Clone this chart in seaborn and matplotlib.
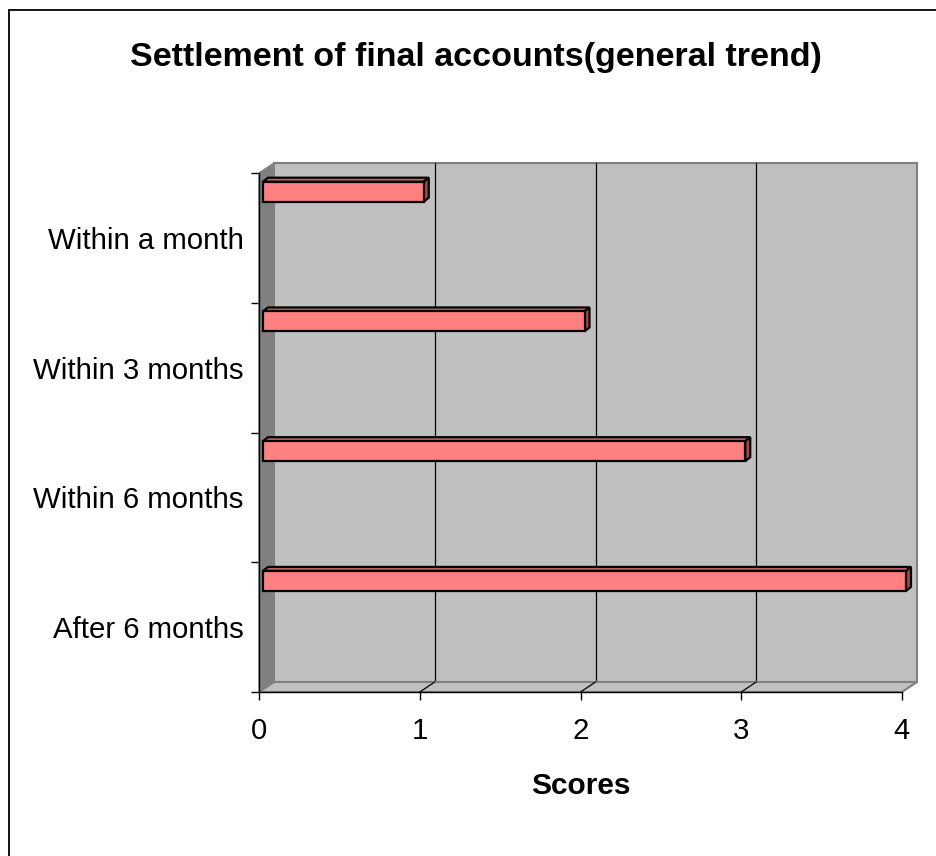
import matplotlib
matplotlib.use("Agg")
import matplotlib.pyplot as plt
import seaborn as sns
from matplotlib.patches import Polygon
from matplotlib.lines import Line2D
from matplotlib.transforms import IdentityTransform

categories = ["Within a month", "Within 3 months", "Within 6 months", "After 6 months"]
scores = [1, 2, 3, 4]
x_ticks = [0, 1, 2, 3, 4]
title = "Settlement of final accounts(general trend)"
x_label = "Scores"

W, H, DPI = 937, 856, 100
sns.set_theme(style="white")
plt.rcParams["font.family"] = ["Liberation Sans", "DejaVu Sans"]

fig = plt.figure(figsize=(W / DPI, H / DPI), dpi=DPI)
fig.patch.set_facecolor("white")

# front plane of the plot box (pixels, measured from the top-left corner)
L, R, T, B = 259, 902, 173, 692
ax = fig.add_axes([L / W, 1 - B / H, (R - L) / W, (B - T) / H])
ax.patch.set_visible(False)

DEPTH_X, DEPTH_Y = 15, 10   # depth of the 3-D box, in pixels
BAR_DX, BAR_DY = 5, 4       # depth of each bar, in pixels
BAR_SHIFT = 4               # bars sit slightly in front of the left wall
BAND_OFFSET = 0.144         # bars sit near the top of each category band

FRONT = "#FF8080"
TOP = "#C86464"
SIDE = "#A04C4C"
WALL = "#C0C0C0"
SIDE_WALL = "#808080"
EDGE = "#808080"

LABEL_SIZE = 21.2

sns.barplot(x=scores, y=categories, orient="h", color=FRONT, saturation=1,
            edgecolor="black", linewidth=1.6, width=0.154, ax=ax, zorder=3)
bars = list(ax.containers[0])

n = len(categories)
ax.set_xlim(0, 4)
ax.set_ylim(n - BAND_OFFSET, -BAND_OFFSET)

ax.set_xticks(x_ticks)
ax.set_xticklabels([str(t) for t in x_ticks])
ax.set_yticks([k - BAND_OFFSET for k in range(n + 1)])
ax.set_yticklabels([])
ax.set_yticks([k + 0.5 - BAND_OFFSET for k in range(n)], minor=True)
ax.set_yticklabels(categories, minor=True)

ax.tick_params(axis="y", which="major", left=True, length=5.8, width=1,
               color="black", direction="out")
ax.tick_params(axis="y", which="minor", left=True, length=0, pad=11,
               labelsize=LABEL_SIZE, labelcolor="black")
ax.tick_params(axis="x", which="major", bottom=True, length=5.8, width=1,
               color="black", direction="out", pad=12, labelsize=LABEL_SIZE,
               labelcolor="black")
ax.set_xlabel(x_label, fontsize=21.5, fontweight="bold", labelpad=20, color="black")
ax.set_ylabel("")
for side in ("top", "right"):
    ax.spines[side].set_visible(False)
for side in ("left", "bottom"):
    ax.spines[side].set_color("black")
    ax.spines[side].set_linewidth(1)
    ax.spines[side].set_zorder(5)

# walls and floor of the 3-D box, built in display pixels
(xl, yb), (xr, yt) = ax.transAxes.transform([(0, 0), (1, 1)])
dx, dy = DEPTH_X, DEPTH_Y
ident = IdentityTransform()

back_wall = Polygon([(xl + dx, yb + dy), (xr + dx, yb + dy), (xr + dx, yt + dy), (xl + dx, yt + dy)],
                    closed=True, facecolor=WALL, edgecolor=EDGE, linewidth=1.5,
                    transform=ident, clip_on=False, zorder=0)
floor = Polygon([(xl, yb), (xl + dx, yb + dy), (xr + dx, yb + dy), (xr, yb)],
                closed=True, facecolor=WALL, edgecolor=EDGE, linewidth=1.5,
                transform=ident, clip_on=False, zorder=0.6)
left_wall = Polygon([(xl, yb), (xl, yt), (xl + dx, yt + dy), (xl + dx, yb + dy)],
                    closed=True, facecolor=SIDE_WALL, edgecolor=EDGE, linewidth=1,
                    transform=ident, clip_on=False, zorder=0.7)
for p in (back_wall, floor, left_wall):
    ax.add_artist(p)

# gridlines on the back wall and their traces across the floor
for v in x_ticks[1:-1]:
    gx = ax.transData.transform((v, 0))[0]
    ax.add_artist(Line2D([gx + dx, gx + dx], [yb + dy, yt + dy], color="black",
                         linewidth=0.9, transform=ident, clip_on=False, zorder=0.5))
    ax.add_artist(Line2D([gx + dx, gx], [yb + dy, yb], color="black",
                         linewidth=0.9, transform=ident, clip_on=False, zorder=0.8))

# move bars off the wall and give each a top and a right face
for bar in bars:
    (bx0, by0), (bx1, by1) = ax.transData.transform(
        [(bar.get_x(), bar.get_y()), (bar.get_x() + bar.get_width(), bar.get_y() + bar.get_height())])
    x0, x1 = sorted((bx0, bx1))
    y0, y1 = sorted((by0, by1))
    x0 += BAR_SHIFT
    x1 += BAR_SHIFT
    bar.set_visible(False)
    front = Polygon([(x0, y0), (x1, y0), (x1, y1), (x0, y1)], closed=True,
                    facecolor=FRONT, edgecolor="black", linewidth=1.6,
                    joinstyle="miter", transform=ident, clip_on=False, zorder=3)
    top = Polygon([(x0, y1), (x0 + BAR_DX, y1 + BAR_DY), (x1 + BAR_DX, y1 + BAR_DY), (x1, y1)],
                  closed=True, facecolor=TOP, edgecolor="black", linewidth=1.6,
                  joinstyle="miter", transform=ident, clip_on=False, zorder=3)
    right = Polygon([(x1, y0), (x1, y1), (x1 + BAR_DX, y1 + BAR_DY), (x1 + BAR_DX, y0 + BAR_DY)],
                    closed=True, facecolor=SIDE, edgecolor="black", linewidth=1.6,
                    joinstyle="miter", transform=ident, clip_on=False, zorder=3)
    for p in (top, right, front):
        ax.add_artist(p)

fig.text(476 / W, 1 - 66 / H, title, ha="center", va="baseline",
         fontsize=24.5, fontweight="bold", color="black")

# chart frame
fig.add_artist(Line2D([9 / W, 1], [1 - 10 / H, 1 - 10 / H], color="black",
                      linewidth=1.3, transform=fig.transFigure))
fig.add_artist(Line2D([9 / W, 9 / W], [0, 1 - 10 / H], color="black",
                      linewidth=1.3, transform=fig.transFigure))

fig.savefig("out.png", dpi=DPI, facecolor="white")
